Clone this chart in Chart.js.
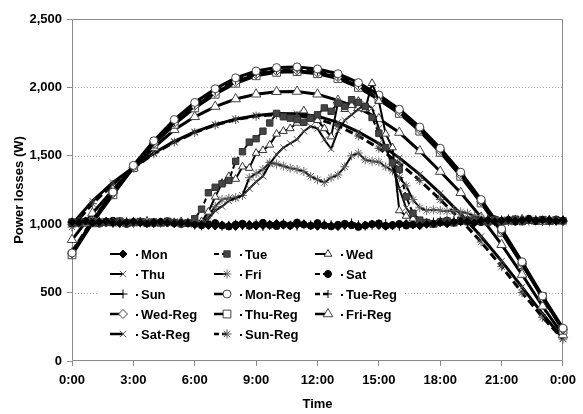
<!DOCTYPE html>
<html lang="en">

<head>
    <meta charset="UTF-8">
    <title>Power losses</title>
    <script src="https://cdn.jsdelivr.net/npm/chart.js"></script>
    <style>
        body { margin: 0; background: #fff; }
        #grafico { display: block; }
    </style>
</head>

<body>
    <canvas id="grafico" width="583" height="414"></canvas>

    <script>
        // measured series, one value every 20 minutes
        const measTimes = ["0:00","0:20","0:40","1:00","1:20","1:40","2:00","2:20","2:40","3:00","3:20","3:40",
            "4:00","4:20","4:40","5:00","5:20","5:40","6:00","6:20","6:40","7:00","7:20","7:40",
            "8:00","8:20","8:40","9:00","9:20","9:40","10:00","10:20","10:40","11:00","11:20","11:40",
            "12:00","12:20","12:40","13:00","13:20","13:40","14:00","14:20","14:40","15:00","15:20","15:40",
            "16:00","16:20","16:40","17:00","17:20","17:40","18:00","18:20","18:40","19:00","19:20","19:40",
            "20:00","20:20","20:40","21:00","21:20","21:40","22:00","22:20","22:40","23:00","23:20","23:40","24:00"];

        const mon = [1018,1012,1024,1009,1016,1021,1011,1006,1015,1019,1010,1004,1013,1017,1008,1003,1011,1006,
            996,1001,991,987,995,989,984,993,998,986,991,999,1005,993,987,996,1002,990,
            985,994,989,983,992,998,987,994,1001,991,985,989,996,1004,995,989,999,1006,
            1010,1003,1014,1021,1017,1009,1024,1029,1019,1027,1034,1023,1029,1037,1025,1031,1028,1021,1029];
        const tue = [1015,1009,1020,1013,1007,1018,1011,1023,1008,1014,1019,1006,1016,1010,1021,1012,1005,1009,
            1040,1110,1230,1270,1295,1320,1460,1530,1600,1625,1680,1740,1810,1785,1775,1765,1745,1775,
            1800,1850,1825,1885,1860,1910,1890,1860,1780,1665,1560,1450,1400,1200,1080,1030,1012,1004,
            1015,1022,1010,1027,1019,1031,1024,1016,1033,1021,1028,1037,1019,1030,1025,1034,1022,1029,1024];
        const wed = [1010,1017,1004,1014,1021,1008,1012,1019,1006,1015,1011,1022,1009,1003,1016,1013,1020,1007,
            1000,1020,1090,1200,1300,1350,1330,1420,1410,1520,1540,1580,1660,1680,1700,1740,1830,1770,
            1760,1700,1640,1890,1840,1870,1900,1840,2030,1900,1660,1560,1100,1060,1040,1020,1008,996,
            1012,1024,1017,1030,1021,1013,1028,1035,1020,1026,1018,1032,1039,1023,1029,1016,1034,1027,1031];
        const thu = [1020,1011,1016,1007,1023,1014,1009,1018,1012,1005,1017,1021,1010,1015,1008,1019,1013,1004,
            1000,1005,1040,1100,1130,1170,1190,1210,1260,1310,1350,1440,1510,1560,1590,1620,1680,1715,
            1700,1620,1550,1680,1760,1800,1840,1880,1850,1700,1560,1420,1260,1120,1050,1020,1010,998,
            1019,1027,1013,1024,1032,1018,1026,1021,1036,1029,1015,1031,1024,1038,1022,1027,1033,1018,1026];
        const fri = [1008,1016,1012,1021,1006,1017,1013,1004,1019,1011,1009,1022,1014,1007,1018,1012,1003,1015,
            1000,1010,1060,1130,1180,1190,1195,1210,1340,1370,1400,1450,1440,1425,1410,1400,1385,1350,
            1325,1305,1340,1360,1420,1500,1520,1470,1460,1455,1420,1390,1340,1280,1180,1120,1100,1105,
            1100,1095,1100,1090,1080,1060,1045,1030,1024,1033,1019,1028,1035,1022,1031,1026,1017,1030,1023];
        const sat = [1005,1022,1013,1019,1004,1011,1025,1015,1002,1010,1020,1013,1007,1016,1022,1010,1001,1009,
            1003,992,998,1008,990,983,997,1004,988,995,1010,994,986,1000,992,1012,997,989,
            1008,990,984,996,1003,993,980,991,1000,1006,988,994,1002,990,997,1005,1013,1002,
            1018,1026,1012,1020,1031,1024,1015,1027,1036,1022,1030,1018,1026,1040,1021,1033,1024,1035,1025];
        const sun = [1012,1008,1017,1023,1010,1014,1006,1020,1012,1008,1016,1022,1005,1011,1019,1014,1007,1013,
            994,988,1002,996,985,992,1000,989,995,1003,984,991,998,1007,993,986,1001,995,
            990,1002,996,988,993,1009,995,986,992,999,1004,990,985,998,1008,1001,1010,1016,
            1023,1015,1028,1019,1034,1026,1021,1032,1018,1025,1039,1030,1022,1035,1027,1019,1031,1026,1020];

        // regression curves, one value per hour
        const regTimes = ["0:00","1:00","2:00","3:00","4:00","5:00","6:00","7:00","8:00","9:00","10:00","11:00",
            "12:00","13:00","14:00","15:00","16:00","17:00","18:00","19:00","20:00","21:00","22:00","23:00","24:00"];

        const monReg = [790,1025,1235,1430,1610,1765,1890,1990,2070,2120,2145,2150,2135,2100,2035,1945,1840,1710,1555,1380,1180,965,725,475,240];
        const tueReg = [800,1030,1230,1420,1595,1745,1870,1970,2050,2100,2125,2130,2115,2080,2020,1930,1830,1700,1545,1370,1170,955,715,465,230];
        const wedReg = [785,1015,1225,1415,1590,1740,1865,1960,2040,2095,2120,2122,2108,2075,2010,1920,1820,1690,1535,1360,1165,950,710,460,230];
        const thuReg = [776,1010,1215,1413,1585,1730,1850,1950,2030,2085,2110,2115,2100,2065,2000,1910,1810,1680,1525,1350,1155,940,705,470,225];
        const friReg = [886,1080,1250,1413,1560,1690,1785,1860,1915,1950,1968,1970,1950,1905,1850,1770,1670,1535,1385,1230,1050,850,632,400,190];
        const satReg = [1000,1170,1305,1415,1520,1605,1675,1728,1768,1795,1810,1808,1790,1745,1675,1590,1485,1365,1225,1075,910,730,540,345,165];
        const sunReg = [980,1150,1290,1410,1515,1600,1670,1725,1765,1790,1800,1795,1770,1720,1645,1555,1445,1320,1180,1030,870,690,500,320,160];

        const xTickLabels = ["0:00","3:00","6:00","9:00","12:00","15:00","18:00","21:00","0:00"];

        function horas(txt) {
            var p = txt.split(':');
            return Number(p[0]) + Number(p[1]) / 60;
        }

        function pontos(times, vals) {
            return vals.map(function (v, i) { return { x: horas(times[i]), y: v }; });
        }

        // name, values, times, marker, radius, fill, stroke, line width, dash
        const series = [
            ['Mon', mon, measTimes, 'rectRot', 4, '#000', '#000', 2, []],
            ['Tue', tue, measTimes, 'rect', 4.5, '#444', '#333', 2, [5, 3]],
            ['Wed', wed, measTimes, 'triangle', 4.5, '#fff', '#333', 2, []],
            ['Thu', thu, measTimes, 'crossRot', 4.5, '#555', '#555', 2, []],
            ['Fri', fri, measTimes, 'star', 4.5, '#666', '#666', 2, []],
            ['Sat', sat, measTimes, 'circle', 3.5, '#000', '#000', 2, [5, 3]],
            ['Sun', sun, measTimes, 'cross', 4.5, '#000', '#000', 2, []],
            ['Mon-Reg', monReg, regTimes, 'circle', 4, '#fff', '#444', 3, []],
            ['Tue-Reg', tueReg, regTimes, 'cross', 4, '#000', '#000', 3, [8, 4]],
            ['Wed-Reg', wedReg, regTimes, 'rectRot', 4.5, '#fff', '#444', 3, []],
            ['Thu-Reg', thuReg, regTimes, 'rect', 5.5, '#fff', '#444', 3, []],
            ['Fri-Reg', friReg, regTimes, 'triangle', 5.5, '#fff', '#444', 3, []],
            ['Sat-Reg', satReg, regTimes, 'crossRot', 4.5, '#555', '#555', 3, []],
            ['Sun-Reg', sunReg, regTimes, 'star', 4.5, '#555', '#555', 3, [8, 4]]
        ];

        var datasets = series.map(function (s) {
            return {
                label: s[0],
                data: pontos(s[2], s[1]),
                pointStyle: s[3],
                pointRadius: s[4],
                pointBackgroundColor: s[5],
                pointBorderColor: s[6],
                pointBorderWidth: 1,
                borderColor: '#000',
                borderWidth: s[7],
                borderDash: s[8],
                tension: 0,
                fill: false,
                clip: false
            };
        });

        // moldura do grafico (eixos + borda cinza) e linhas pontilhadas do eixo Y
        const moldura = {
            id: 'moldura',
            beforeDatasetsDraw(chart) {
                const a = chart.chartArea, ctx = chart.ctx;
                const y = chart.scales.y;
                ctx.save();
                ctx.strokeStyle = '#a8a8a8';
                ctx.lineWidth = 1;
                ctx.setLineDash([1, 2]);
                y.ticks.forEach(function (t) {
                    if (t.value <= 0 || t.value >= 2500) return;
                    const py = Math.round(y.getPixelForValue(t.value)) + 0.5;
                    ctx.beginPath();
                    ctx.moveTo(a.left, py);
                    ctx.lineTo(a.right, py);
                    ctx.stroke();
                });
                ctx.setLineDash([]);
                ctx.strokeStyle = '#8a8a8a';
                ctx.beginPath();
                ctx.moveTo(a.left + 0.5, a.top + 0.5);
                ctx.lineTo(a.right - 0.5, a.top + 0.5);
                ctx.lineTo(a.right - 0.5, a.bottom - 0.5);
                ctx.lineTo(a.left + 0.5, a.bottom - 0.5);
                ctx.closePath();
                ctx.stroke();
                ctx.restore();
            }
        };

        // legenda dentro da area do grafico, 3 colunas
        const legendaInterna = {
            id: 'legendaInterna',
            afterDatasetsDraw(chart) {
                const ctx = chart.ctx;
                const colX = [123, 227, 328];
                const rowY = [254, 274, 294, 314, 334];
                ctx.save();
                ctx.fillStyle = '#fff';
                ctx.fillRect(97, 243, 308, 100);
                chart.data.datasets.forEach(function (ds, i) {
                    const mx = colX[i % 3], my = rowY[Math.floor(i / 3)];
                    ctx.strokeStyle = '#000';
                    ctx.lineWidth = ds.borderWidth > 2 ? 2.5 : 2;
                    ctx.setLineDash(ds.borderDash.length ? [5, 3] : []);
                    ctx.beginPath();
                    ctx.moveTo(mx - 13, my);
                    ctx.lineTo(mx, my);
                    ctx.stroke();
                    ctx.setLineDash([]);
                    ctx.fillStyle = ds.pointBackgroundColor;
                    ctx.strokeStyle = ds.pointBorderColor;
                    ctx.lineWidth = 1;
                    Chart.helpers.drawPoint(ctx, {
                        pointStyle: ds.pointStyle,
                        radius: ds.pointRadius,
                        borderWidth: 1,
                        rotation: 0
                    }, mx, my);
                    ctx.fillStyle = '#000';
                    ctx.fillRect(mx + 13, my, 2, 2);
                    ctx.font = 'bold 13px "Liberation Sans", Arial, sans-serif';
                    ctx.textBaseline = 'middle';
                    ctx.textAlign = 'left';
                    ctx.fillText(ds.label, mx + 18, my + 1);
                });
                ctx.restore();
            }
        };

        Chart.defaults.font.family = '"Liberation Sans", Arial, sans-serif';
        Chart.defaults.font.size = 13;
        Chart.defaults.font.weight = 'bold';
        Chart.defaults.color = '#000';

        const config = {
            type: 'line',
            data: { datasets: datasets },
            options: {
                responsive: false,
                animation: false,
                layout: { padding: { top: 19, right: 15, left: 0, bottom: 0 } },
                plugins: {
                    legend: { display: false },
                    tooltip: { enabled: false }
                },
                scales: {
                    x: {
                        type: 'linear',
                        min: 0,
                        max: 24,
                        afterFit: function (scale) { scale.height = 53; },
                        afterBuildTicks: function (scale) {
                            scale.ticks = xTickLabels.map(function (t, i) { return { value: i * 3 }; });
                        },
                        ticks: {
                            padding: 7,
                            maxRotation: 0,
                            autoSkip: false,
                            callback: function (v) { return xTickLabels[v / 3]; }
                        },
                        grid: { drawOnChartArea: false, tickLength: 5, color: '#8a8a8a' },
                        border: { display: false },
                        title: { display: true, text: 'Time', padding: { top: 0, bottom: 2 } }
                    },
                    y: {
                        min: 0,
                        max: 2500,
                        afterFit: function (scale) { scale.width = 72; },
                        ticks: {
                            stepSize: 500,
                            padding: 5,
                            callback: function (v) { return v.toLocaleString('en-US'); }
                        },
                        grid: { drawOnChartArea: false, color: '#8a8a8a', tickLength: 5 },
                        border: { display: false },
                        title: { display: true, text: 'Power losses (W)', padding: { top: 12, bottom: 0 } }
                    }
                }
            },
            plugins: [moldura, legendaInterna]
        };

        var myChart = new Chart(document.getElementById('grafico'), config);
    </script>
</body>

</html>
